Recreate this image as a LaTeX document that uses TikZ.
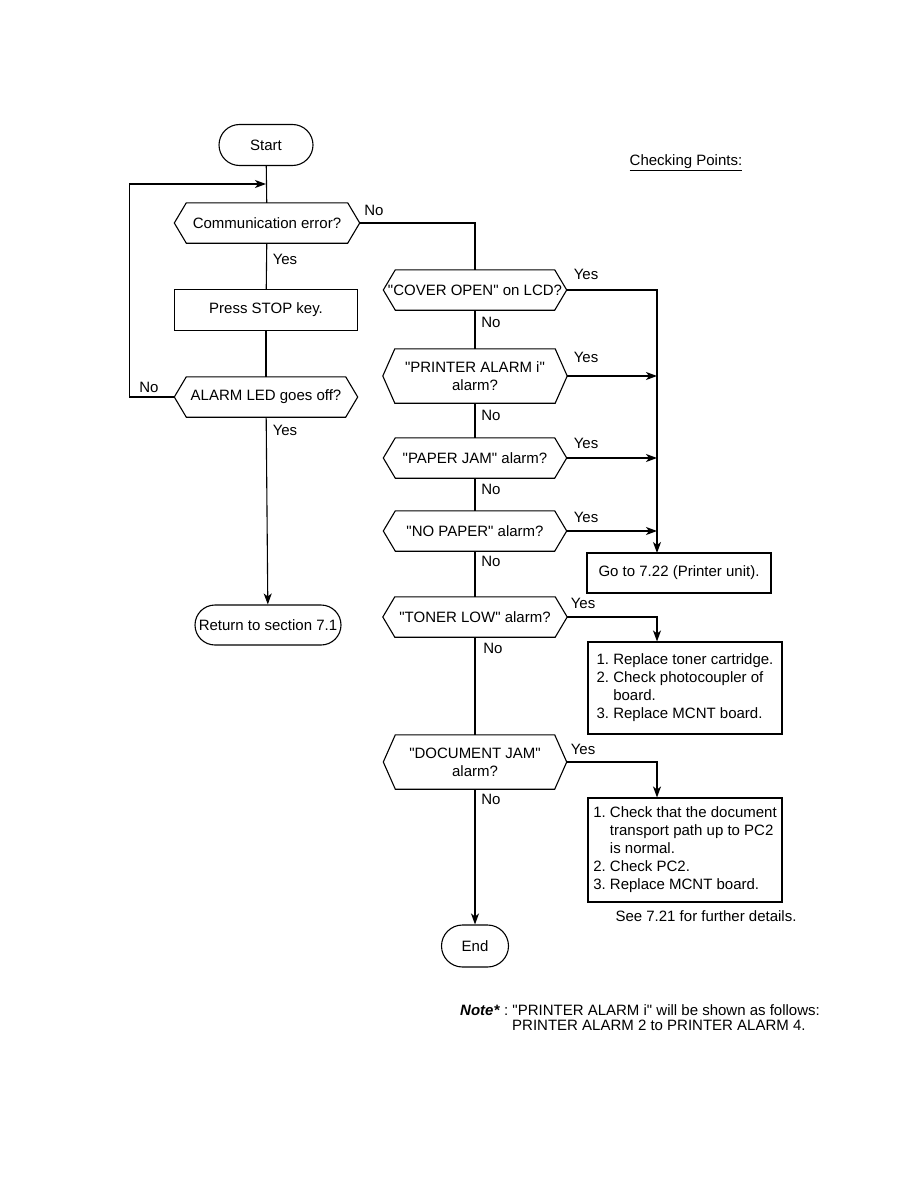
\documentclass[tikz,border=0pt]{standalone}
\usepackage{fontspec}
\setmainfont{Liberation Sans}[Ligatures=TeXOff]
\usetikzlibrary{arrows.meta,positioning,shapes.misc}
\frenchspacing

\begin{document}
\begin{tikzpicture}[
    x=1pt, y=-1pt,
    every node/.style={font=\fontsize{15}{18}\selectfont},
    term/.style={draw, rounded rectangle, line width=1.1pt, inner sep=2pt},
    dec/.style={minimum height=40pt, inner xsep=0pt, inner ysep=2pt, align=center,
      append after command={\pgfextra{\draw[line width=1.1pt]
        (\tikzlastnode.west) -- ([xshift=12pt]\tikzlastnode.north west)
        -- ([xshift=-12pt]\tikzlastnode.north east) -- (\tikzlastnode.east)
        -- ([xshift=-12pt]\tikzlastnode.south east)
        -- ([xshift=12pt]\tikzlastnode.south west) -- cycle;}}},
    proc/.style={draw, line width=1.1pt, minimum height=40pt, align=center},
    listbox/.style={draw, line width=1.1pt, align=left, minimum width=194pt,
                    inner ysep=9pt},
    arrow/.style={-{Stealth[length=11pt, width=8pt, inset=3pt]}, line width=1.1pt},
    conn/.style={line width=1.1pt},
    lbl/.style={inner sep=0pt},
  ]
  \useasboundingbox (0,0) rectangle (918,1188);

  % left column
  \node[term, minimum width=98pt, minimum height=41pt] (start) at (266,145) {Start};
  \node[dec, minimum width=185pt] (comm) at (267,223) {Communication error?};
  \node[proc, minimum width=183pt, minimum height=41pt] (stop) at (266,310) {Press STOP key.};
  \node[dec, minimum width=183pt] (alarm) at (266,397) {ALARM LED goes off?};
  \node[term, minimum width=150pt, minimum height=40pt] (ret) at (268,625) {Return to section 7.1};
  \coordinate (loop) at (266,184);

  % right column
  \node[dec, minimum width=183pt] (cover) at (475,290) {"COVER OPEN" on LCD?};
  \node[dec, minimum width=184pt, minimum height=54pt] (printer) at (475,376)
    {"PRINTER ALARM i"\\alarm?};
  \node[dec, minimum width=183pt] (jam) at (475,458) {"PAPER JAM" alarm?};
  \node[dec, minimum width=183pt] (nopaper) at (475,531) {"NO PAPER" alarm?};
  \node[dec, minimum width=184pt] (toner) at (475,617) {"TONER LOW" alarm?};
  \node[dec, minimum width=183pt, minimum height=54pt] (doc) at (475,762)
    {"DOCUMENT JAM"\\alarm?};
  \node[term, minimum width=71pt, minimum height=42pt] (end) at (475,946) {End};

  % checking points
  \node[lbl] (check) at (686,163) {\underline{Checking Points:}};
  \node[proc, minimum width=184pt] (goto) at (679,573) {Go to 7.22 (Printer unit).};
  \node[listbox, minimum height=92pt] (box1) at (685,688)
    {1. Replace toner cartridge.\\2. Check photocoupler of\\\phantom{2. }board.\\3. Replace MCNT board.};
  \node[listbox, minimum height=102pt] (box2) at (685,850)
    {1. Check that the document\\\phantom{1. }transport path up to PC2\\\phantom{1. }is normal.\\2. Check PC2.\\3. Replace MCNT board.};
  \node[lbl] (see) at (706,916) {See 7.21 for further details.};
  \coordinate (bus) at (657,553);

  % yes / no labels
  \node[lbl] (n1) at (374,210) {No};
  \node[lbl] (y1) at (285,259) {Yes};
  \node[lbl] (n2) at (149,387) {No};
  \node[lbl] (y2) at (285,430) {Yes};
  \node[lbl] (y3) at (586,274) {Yes};
  \node[lbl] (n3) at (491,322) {No};
  \node[lbl] (y4) at (586,357) {Yes};
  \node[lbl] (n4) at (491,415) {No};
  \node[lbl] (y5) at (586,443) {Yes};
  \node[lbl] (n5) at (491,489) {No};
  \node[lbl] (y6) at (586,517) {Yes};
  \node[lbl] (n6) at (491,561) {No};
  \node[lbl] (y7) at (583,603) {Yes};
  \node[lbl] (n7) at (493,648) {No};
  \node[lbl] (y8) at (583,749) {Yes};
  \node[lbl] (n8) at (491,799) {No};

  % note
  \node[lbl, anchor=west] (note1) at (460,1010)
    {\textbf{\textit{Note*}} : "PRINTER ALARM i" will be shown as follows:};
  \node[lbl, anchor=west] (note2) at (512,1025) {PRINTER ALARM 2 to PRINTER ALARM 4.};

  % connectors
  \draw[conn] (start) -- (comm);
  \draw[conn] (comm) -- (stop);
  \draw[conn] (stop) -- (alarm);
  \draw[arrow] (alarm) -- (ret);
  \draw[arrow] (alarm.west) -- ++(-45,0) |- (loop);
  \draw[conn] (comm.east) -| (cover.north);

  \draw[conn] (cover) -- (printer);
  \draw[conn] (printer) -- (jam);
  \draw[conn] (jam) -- (nopaper);
  \draw[conn] (nopaper) -- (toner);
  \draw[conn] (toner) -- (doc);
  \draw[arrow] (doc) -- (end);

  \draw[arrow] (cover.east) -| (bus);
  \draw[arrow] (printer.east) -- (printer.east -| bus);
  \draw[arrow] (jam.east) -- (jam.east -| bus);
  \draw[arrow] (nopaper.east) -- (nopaper.east -| bus);
  \draw[arrow] (toner.east) -| (box1.north -| bus);
  \draw[arrow] (doc.east) -| (box2.north -| bus);
\end{tikzpicture}
\end{document}
